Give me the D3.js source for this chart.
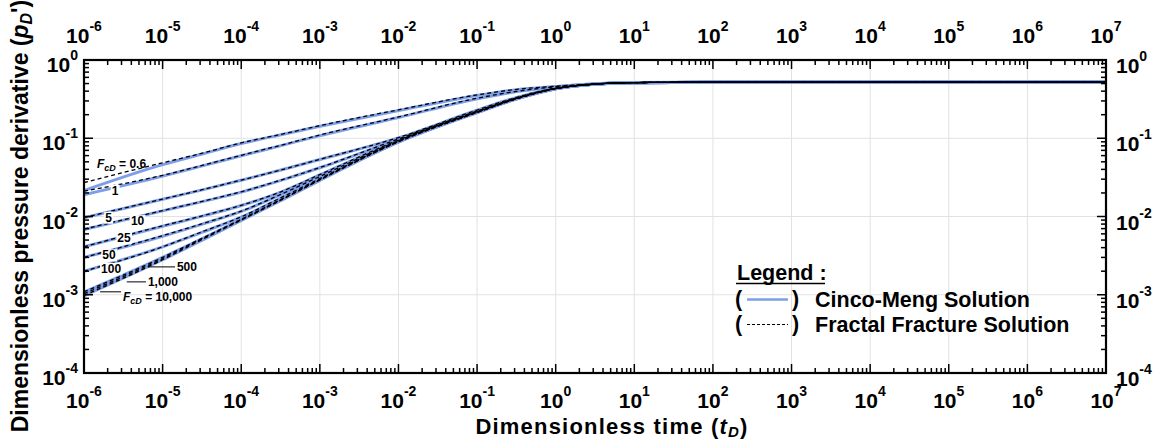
<!DOCTYPE html>
<html><head><meta charset="utf-8">
<script src="https://cdn.jsdelivr.net/npm/d3@7"></script>
<style>
html,body{margin:0;padding:0;background:#fff;}
svg{display:block;font-family:"Liberation Sans",Arial,sans-serif;font-weight:bold;}
</style></head><body>
<svg id="chart" width="1154" height="440"></svg>
<script>
// Dimensionless time samples shared by every type curve
const tD = [1e-6, 1e-5, 3.2e-5, 1e-4, 3.2e-4, 1e-3, 1e-2, 1e-1, 3.2e-1, 1, 3, 10, 1e2, 1e7];

// Cinco-Meng solution: pressure derivative pD' per fracture conductivity FcD
const cm_0_6   = [0.0215, 0.0460, 0.0630, 0.0855, 0.111, 0.142, 0.226, 0.352, 0.418, 0.458, 0.493, 0.514, 0.52, 0.52];
const cm_1     = [0.0190, 0.0328, 0.0444, 0.0598, 0.0805, 0.108, 0.184, 0.320, 0.395, 0.453, 0.492, 0.514, 0.52, 0.52];
const cm_5     = [0.0096, 0.0166, 0.0219, 0.0290, 0.0392, 0.0535, 0.101, 0.228, 0.333, 0.437, 0.491, 0.513, 0.52, 0.52];
const cm_10    = [0.0068, 0.0118, 0.0155, 0.0205, 0.0290, 0.0420, 0.097, 0.222, 0.327, 0.434, 0.490, 0.513, 0.52, 0.52];
const cm_25    = [0.0041, 0.0075, 0.0101, 0.0138, 0.0205, 0.0340, 0.094, 0.218, 0.324, 0.432, 0.490, 0.513, 0.52, 0.52];
const cm_50    = [0.0030, 0.0056, 0.0080, 0.0116, 0.0190, 0.0322, 0.092, 0.216, 0.322, 0.431, 0.490, 0.513, 0.52, 0.52];
const cm_100   = [0.0020, 0.0041, 0.0063, 0.0098, 0.0172, 0.0302, 0.091, 0.215, 0.321, 0.430, 0.490, 0.513, 0.52, 0.52];
const cm_500   = [0.00108, 0.0030, 0.0052, 0.0091, 0.0163, 0.0295, 0.090, 0.214, 0.320, 0.430, 0.490, 0.513, 0.52, 0.52];
const cm_1000  = [0.00102, 0.0029, 0.0051, 0.0090, 0.0162, 0.0293, 0.090, 0.213, 0.320, 0.430, 0.490, 0.513, 0.52, 0.52];
const cm_10000 = [0.00097, 0.0028, 0.0050, 0.0089, 0.0160, 0.0290, 0.089, 0.213, 0.319, 0.429, 0.490, 0.513, 0.52, 0.52];

// Fractal fracture solution: pressure derivative pD' per fracture conductivity FcD
const ff_0_6   = [0.0272, 0.0486, 0.0645, 0.0874, 0.112, 0.145, 0.231, 0.358, 0.422, 0.461, 0.494, 0.515, 0.521, 0.521];
const ff_1     = [0.0211, 0.0336, 0.0450, 0.0606, 0.0815, 0.110, 0.187, 0.325, 0.398, 0.455, 0.493, 0.515, 0.521, 0.521];
const ff_5     = [0.0097, 0.0167, 0.0220, 0.0292, 0.0394, 0.0538, 0.102, 0.229, 0.334, 0.438, 0.491, 0.514, 0.521, 0.521];
const ff_10    = [0.0069, 0.0119, 0.0156, 0.0207, 0.0292, 0.0423, 0.098, 0.223, 0.328, 0.435, 0.490, 0.514, 0.521, 0.521];
const ff_25    = [0.0041, 0.0076, 0.0102, 0.0139, 0.0207, 0.0343, 0.095, 0.219, 0.325, 0.433, 0.490, 0.514, 0.521, 0.521];
const ff_50    = [0.0030, 0.0057, 0.0081, 0.0117, 0.0192, 0.0325, 0.093, 0.217, 0.323, 0.432, 0.490, 0.514, 0.521, 0.521];
const ff_100   = [0.0020, 0.0041, 0.0064, 0.0099, 0.0174, 0.0305, 0.092, 0.216, 0.322, 0.431, 0.490, 0.514, 0.521, 0.521];
const ff_500   = [0.00109, 0.0030, 0.0053, 0.0092, 0.0165, 0.0298, 0.091, 0.215, 0.321, 0.431, 0.490, 0.514, 0.521, 0.521];
const ff_1000  = [0.00103, 0.0029, 0.0052, 0.0091, 0.0164, 0.0296, 0.091, 0.214, 0.321, 0.431, 0.490, 0.514, 0.521, 0.521];
const ff_10000 = [0.00098, 0.0028, 0.0051, 0.0090, 0.0162, 0.0293, 0.090, 0.214, 0.320, 0.430, 0.490, 0.514, 0.521, 0.521];

// Tick labels (powers of ten)
const xExponents = ["-6", "-5", "-4", "-3", "-2", "-1", "0", "1", "2", "3", "4", "5", "6", "7"];
const yExponents = ["0", "-1", "-2", "-3", "-4"];

// Curve annotations: text, anchor point in (tD, pD') and an optional leader segment
const fcdLabels   = ["0.6", "1", "5", "10", "25", "50", "100", "500", "1,000", "10,000"];
const labelT      = [3.0e-6, 2.48e-6, 2.05e-6, 4.8e-6, 3.23e-6, 2.08e-6, 2.21e-6, 1.52e-5, 6.5e-6, 3.13e-6];
const labelV      = [0.047, 0.0216, 0.00975, 0.0088, 0.00533, 0.00323, 0.00217, 0.00227, 0.00146, 0.000955];
const leaderT0    = [null, null, null, null, null, null, null, 6.5e-6, 3.5e-6, 1.6e-6];
const leaderT1    = [null, null, null, null, null, null, null, 1.44e-5, 6.15e-6, 2.96e-6];
const leaderV     = [null, null, null, null, null, null, null, 0.00227, 0.00146, 0.00109];

const cmSeries = [cm_0_6, cm_1, cm_5, cm_10, cm_25, cm_50, cm_100, cm_500, cm_1000, cm_10000];
const ffSeries = [ff_0_6, ff_1, ff_5, ff_10, ff_25, ff_50, ff_100, ff_500, ff_1000, ff_10000];

const svg = d3.select("#chart");
const L = 84, R = 1106, T = 60, B = 373;

const x = d3.scaleLog().domain([1e-6, 1e7]).range([L, R]);
const y = d3.scaleLog().domain([1e-4, 1]).range([B, T]);

const BLUE = "#7d9ee8";

// Grid at each decade
const xDecades = xExponents.map(e => Math.pow(10, +e));
const yDecades = yExponents.map(e => Math.pow(10, +e));
const grid = svg.append("g").attr("stroke", "#e2e2e2").attr("stroke-width", 1);
xDecades.slice(1, -1).forEach(v => grid.append("line").attr("x1", x(v)).attr("x2", x(v)).attr("y1", T).attr("y2", B));
yDecades.slice(1, -1).forEach(v => grid.append("line").attr("y1", y(v)).attr("y2", y(v)).attr("x1", L).attr("x2", R));

// Clip for the curves
svg.append("clipPath").attr("id", "plot").append("rect")
  .attr("x", L).attr("y", T).attr("width", R - L).attr("height", B - T);

const line = d3.line().x(d => x(d[0])).y(d => y(d[1])).curve(d3.curveMonotoneX);
const curves = svg.append("g").attr("clip-path", "url(#plot)").attr("fill", "none");

cmSeries.forEach(s => {
  curves.append("path").attr("d", line(tD.map((t, i) => [t, s[i]])))
    .attr("stroke", BLUE).attr("stroke-width", 3).attr("stroke-linecap", "round");
});
ffSeries.forEach(s => {
  curves.append("path").attr("d", line(tD.map((t, i) => [t, s[i]])))
    .attr("stroke", "#000").attr("stroke-width", 1.3).attr("stroke-dasharray", "4,3");
});

// FcD annotations
const ann = svg.append("g").attr("font-size", 12);
fcdLabels.forEach((lab, i) => {
  const hasLeader = leaderT0[i] !== null;
  if (hasLeader) {
    ann.append("line")
      .attr("x1", x(leaderT0[i])).attr("x2", x(leaderT1[i]))
      .attr("y1", y(leaderV[i])).attr("y2", y(leaderV[i]))
      .attr("stroke", "#000").attr("stroke-width", 1);
  }
  const g = ann.append("g");
  const bg = g.append("rect").attr("fill", "#fff");
  const tx = g.append("text")
    .attr("x", x(labelT[i])).attr("y", y(labelV[i]))
    .attr("dy", "0.36em")
    .attr("text-anchor", hasLeader ? "start" : "middle");
  const withPrefix = (i === 0 || i === fcdLabels.length - 1);
  if (withPrefix) {
    tx.append("tspan").attr("font-style", "italic").text("F");
    tx.append("tspan").attr("font-style", "italic").attr("font-size", 9).attr("dy", 3).text("cD");
    tx.append("tspan").attr("dy", -3).text(" = " + lab);
    bg.remove();
  } else {
    tx.text(lab);
    const bb = tx.node().getBBox();
    bg.attr("x", bb.x - 1).attr("y", bb.y + 1).attr("width", bb.width + 2).attr("height", bb.height - 2);
  }
});

// Frame
svg.append("rect").attr("x", L).attr("y", T).attr("width", R - L).attr("height", B - T)
  .attr("fill", "none").attr("stroke", "#000").attr("stroke-width", 2.2);

// Inward ticks on all four sides
const ticks = svg.append("g").attr("stroke", "#000").attr("stroke-width", 1.5);
const MAJ = 9, MIN = 5;
const xTickVals = [];
for (let k = -6; k < 7; k++) for (let m = 1; m < 10; m++) xTickVals.push([m * Math.pow(10, k), m === 1]);
xTickVals.push([1e7, true]);
xTickVals.forEach(([v, major]) => {
  const len = major ? MAJ : MIN, px = x(v);
  ticks.append("line").attr("x1", px).attr("x2", px).attr("y1", T).attr("y2", T + len);
  ticks.append("line").attr("x1", px).attr("x2", px).attr("y1", B).attr("y2", B - len);
});
const yTickVals = [];
for (let k = -4; k < 0; k++) for (let m = 1; m < 10; m++) yTickVals.push([m * Math.pow(10, k), m === 1]);
yTickVals.push([1, true]);
yTickVals.forEach(([v, major]) => {
  const len = major ? MAJ : MIN, py = y(v);
  ticks.append("line").attr("y1", py).attr("y2", py).attr("x1", L).attr("x2", L + len);
  ticks.append("line").attr("y1", py).attr("y2", py).attr("x1", R).attr("x2", R - len);
});

// Power-of-ten tick labels
function powLabel(g, px, py, exp, anchor) {
  const t = g.append("text").attr("x", px).attr("y", py).attr("text-anchor", anchor).attr("font-size", 21);
  t.append("tspan").text("10");
  t.append("tspan").attr("font-size", 14).attr("dy", -12).text(exp);
  return t;
}
const lbl = svg.append("g");
xExponents.forEach(e => {
  const v = Math.pow(10, +e);
  powLabel(lbl, x(v), 43, e, "middle");
  powLabel(lbl, x(v), 408, e, "middle");
});
yExponents.forEach(e => {
  const v = Math.pow(10, +e);
  powLabel(lbl, 78, y(v) + 12, e, "end");
  powLabel(lbl, 1116, y(v) + 13, e, "start");
});

// Axis titles
const xt = svg.append("text").attr("x", 612).attr("y", 434).attr("text-anchor", "middle")
  .attr("font-size", 22).attr("letter-spacing", 1.2);
xt.append("tspan").text("Dimensionless time (");
xt.append("tspan").attr("font-style", "italic").text("t");
xt.append("tspan").attr("font-style", "italic").attr("font-size", 15).attr("dy", 3).text("D");
xt.append("tspan").attr("dy", -3).text(")");

const yt = svg.append("text").attr("transform", "translate(28,216) rotate(-90)")
  .attr("text-anchor", "middle").attr("font-size", 23);
yt.append("tspan").text("Dimensionless pressure derivative (");
yt.append("tspan").attr("font-style", "italic").text("p");
yt.append("tspan").attr("font-style", "italic").attr("font-size", 16).attr("dy", 4).text("D");
yt.append("tspan").attr("dy", -4).text("')");

// Legend
const lg = svg.append("g").attr("font-size", 21.5);
lg.append("text").attr("x", 737).attr("y", 280).text("Legend :");
lg.append("line").attr("x1", 736).attr("x2", 825).attr("y1", 283.5).attr("y2", 283.5)
  .attr("stroke", "#000").attr("stroke-width", 1.6);
lg.append("text").attr("x", 735).attr("y", 306).text("(");
lg.append("text").attr("x", 792).attr("y", 306).text(")");
lg.append("line").attr("x1", 747).attr("x2", 788).attr("y1", 299.5).attr("y2", 299.5)
  .attr("stroke", BLUE).attr("stroke-width", 2.5);
lg.append("text").attr("x", 815).attr("y", 307).text("Cinco-Meng Solution");
lg.append("text").attr("x", 735).attr("y", 331).text("(");
lg.append("text").attr("x", 792).attr("y", 331).text(")");
lg.append("line").attr("x1", 747).attr("x2", 788).attr("y1", 324.5).attr("y2", 324.5)
  .attr("stroke", "#000").attr("stroke-width", 1).attr("stroke-dasharray", "3,2");
lg.append("text").attr("x", 815).attr("y", 332).text("Fractal Fracture Solution");
</script>
</body></html>
